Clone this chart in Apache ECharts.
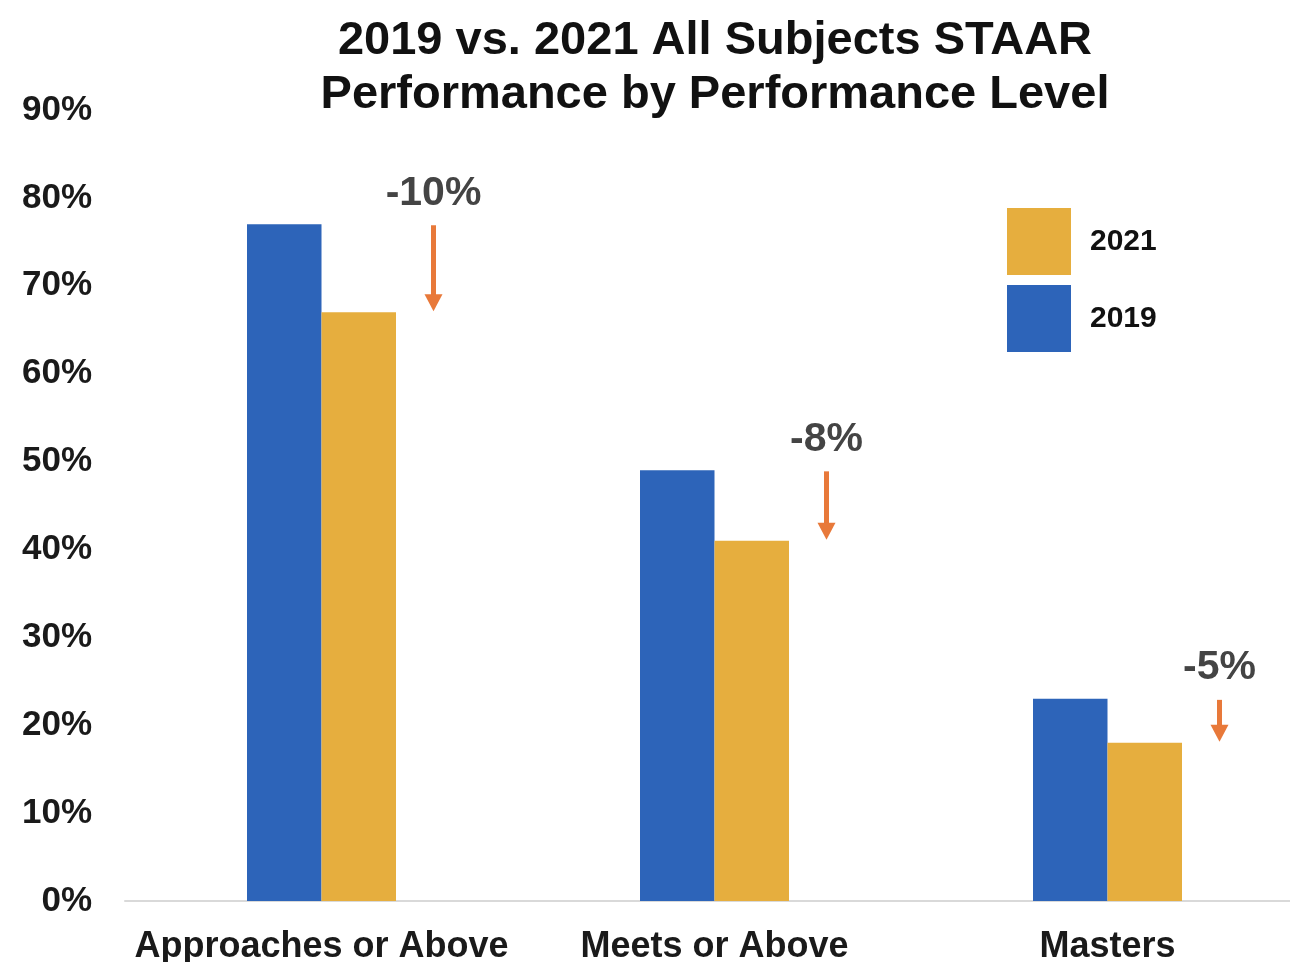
<!DOCTYPE html>
<html>
<head>
<meta charset="utf-8">
<script src="https://cdn.jsdelivr.net/npm/echarts@6/dist/echarts.min.js"></script>
<style>
html,body{margin:0;padding:0;background:#fff;}
#chart{width:1290px;height:962px;}
</style>
</head>
<body>
<div id="chart"></div>
<script>
var categories = ['Approaches or Above', 'Meets or Above', 'Masters'];
var values2019 = [77, 49, 23];
var values2021 = [67, 41, 18];
var changeLabels = ['-10%', '-8%', '-5%'];
var yTicks = [0, 10, 20, 30, 40, 50, 60, 70, 80, 90];

var FONT = '"Liberation Sans", Arial, sans-serif';
var BLUE = '#2D64B9';
var GOLD = '#E6AE3E';
var ORANGE = '#E8793A';

var arrowData = categories.map(function (c, i) {
  return [i, values2019[i], values2021[i], changeLabels[i]];
});

var chart = echarts.init(document.getElementById('chart'));
chart.setOption({
  animation: false,
  backgroundColor: '#fff',
  title: {
    text: '2019 vs. 2021 All Subjects STAAR\nPerformance by Performance Level',
    left: 710,
    top: 9,
    textAlign: 'center',
    textStyle: {
      fontFamily: FONT,
      fontWeight: 'bold',
      fontSize: 47,
      lineHeight: 54,
      color: '#111'
    }
  },
  legend: {
    data: ['2021', '2019'],
    orient: 'vertical',
    left: 1007,
    top: 208,
    padding: 0,
    itemWidth: 64,
    itemHeight: 67,
    itemGap: 10,
    icon: 'rect',
    textStyle: {
      fontFamily: FONT,
      fontWeight: 'bold',
      fontSize: 30,
      color: '#111',
      padding: [0, 0, 0, 14]
    }
  },
  grid: {
    left: 125,
    width: 1179,
    top: 110,
    bottom: 61,
    containLabel: false,
    outerBoundsMode: 'none'
  },
  xAxis: {
    type: 'category',
    data: categories,
    axisLine: { show: true, lineStyle: { color: '#D9D9D9', width: 2 } },
    axisTick: { show: false },
    axisLabel: {
      fontFamily: FONT,
      fontWeight: 'bold',
      fontSize: 36,
      color: '#1a1a1a',
      margin: 28,
      interval: 0
    }
  },
  yAxis: {
    type: 'value',
    min: yTicks[0],
    max: yTicks[yTicks.length - 1],
    interval: 10,
    splitLine: { show: false },
    axisLine: { show: false },
    axisTick: { show: false },
    axisLabel: {
      fontFamily: FONT,
      fontWeight: 'bold',
      fontSize: 35,
      color: '#1a1a1a',
      margin: 33,
      formatter: '{value}%'
    }
  },
  series: [
    {
      name: '2019',
      type: 'bar',
      data: values2019,
      barWidth: 74.5,
      barGap: '0%',
      itemStyle: { color: BLUE }
    },
    {
      name: '2021',
      type: 'bar',
      data: values2021,
      barWidth: 74.5,
      barGap: '0%',
      itemStyle: { color: GOLD }
    },
    {
      name: 'change',
      type: 'custom',
      data: arrowData,
      z: 5,
      renderItem: function (params, api) {
        var start = api.coord([api.value(0), api.value(1)]);
        var end = api.coord([api.value(0), api.value(2)]);
        var x = start[0] + 112;
        var y0 = start[1] + 1;
        var y1 = end[1] - 1;
        var head = 17;
        return {
          type: 'group',
          children: [
            {
              type: 'rect',
              shape: { x: x - 2.5, y: y0, width: 5, height: y1 - y0 - head + 2 },
              style: { fill: ORANGE }
            },
            {
              type: 'polygon',
              shape: { points: [[x - 9, y1 - head], [x + 9, y1 - head], [x, y1]] },
              style: { fill: ORANGE }
            },
            {
              type: 'text',
              x: x,
              y: start[1] - 31,
              style: {
                text: arrowData[params.dataIndex][3],
                fontFamily: FONT,
                fontWeight: 'bold',
                fontSize: 41,
                fill: '#444',
                align: 'center',
                verticalAlign: 'middle'
              }
            }
          ]
        };
      }
    }
  ]
});
</script>
</body>
</html>
